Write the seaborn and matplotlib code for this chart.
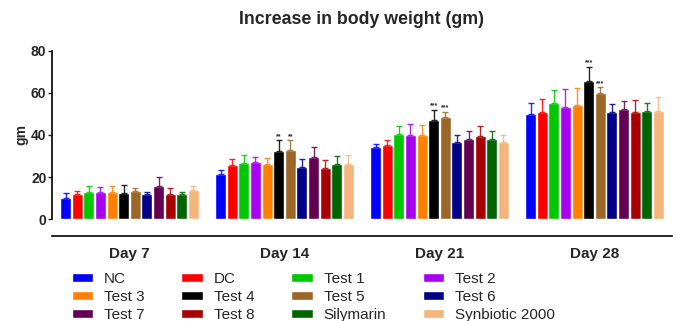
import pandas as pd
import matplotlib.pyplot as plt
import seaborn as sns

# datos
dias = ["Day 7", "Day 14", "Day 21", "Day 28"]
grupos = ["NC", "DC", "Test 1", "Test 2", "Test 3", "Test 4", "Test 5",
          "Test 6", "Test 7", "Test 8", "Silymarin", "Synbiotic 2000"]
colores = ["#0000FF", "#FF0000", "#00C800", "#A800F0", "#FF8000", "#000000",
           "#9C6628", "#000088", "#640050", "#A80000", "#006400", "#F4B67C"]

media_d7 = [10.1, 11.8, 12.9, 12.9, 12.8, 12.5, 13.2, 12.2, 15.6, 12.2, 12.2, 14.0]
media_d14 = [21.3, 25.6, 26.8, 27.0, 26.4, 32.3, 32.7, 24.8, 29.5, 24.5, 26.4, 26.0]
media_d21 = [34.2, 35.3, 40.6, 40.1, 39.8, 47.2, 48.4, 36.9, 38.0, 39.6, 38.2, 36.8]
media_d28 = [50.0, 51.1, 55.1, 53.5, 54.3, 65.5, 59.8, 50.8, 52.4, 51.1, 51.6, 51.3]

error_d7 = [2.4, 1.5, 2.8, 2.4, 2.8, 3.6, 1.5, 0.8, 4.6, 2.6, 0.5, 1.9]
error_d14 = [2.2, 3.1, 3.6, 2.5, 2.8, 5.1, 4.7, 3.7, 4.7, 3.4, 3.4, 4.4]
error_d21 = [1.6, 2.1, 3.8, 5.2, 5.0, 4.7, 2.4, 3.3, 4.1, 4.9, 3.6, 3.3]
error_d28 = [5.4, 5.8, 6.3, 8.5, 7.9, 6.6, 2.8, 4.0, 3.9, 5.5, 3.6, 6.6]

# asteriscos de significancia: (dia, grupo) -> texto
signos = {(1, 5): "**", (1, 6): "**",
          (2, 5): "***", (2, 6): "***",
          (3, 5): "***", (3, 6): "***"}

medias = [media_d7, media_d14, media_d21, media_d28]
errores = [error_d7, error_d14, error_d21, error_d28]

filas = []
for d, dia in enumerate(dias):
    for g, grupo in enumerate(grupos):
        filas.append({"dia": dia, "grupo": grupo, "valor": medias[d][g]})
df = pd.DataFrame(filas)

sns.set_style("white")
plt.rcParams['font.family'] = ['Liberation Sans', 'DejaVu Sans']

fig = plt.figure(figsize=(6.76, 3.21), dpi=100)
ax = fig.add_axes([0.077, 0.317, 0.917, 0.525])

sns.barplot(data=df, x="dia", y="valor", hue="grupo", hue_order=grupos,
            palette=colores, width=0.9, gap=0.05, errorbar=None, ax=ax,
            saturation=1)

# barras de error (solo hacia arriba) y asteriscos
contenedores = list(ax.containers)
for g, cont in enumerate(contenedores):
    for d, barra in enumerate(cont):
        x = barra.get_x() + barra.get_width() / 2
        y = barra.get_height()
        e = errores[d][g]
        ax.errorbar(x, y, yerr=[[0], [e]], fmt="none", ecolor=colores[g],
                    elinewidth=1, capsize=2.2, capthick=1, alpha=0.85)
        if (d, g) in signos:
            ax.text(x, y + e + 0.3, signos[(d, g)], ha="center", va="bottom",
                    fontsize=5, fontweight="bold")

ax.set_ylim(0, 80)
ax.set_xlim(-0.5, 3.5)
ax.set_yticks([0, 20, 40, 60, 80])
ax.set_xticks(range(len(dias)))
ax.set_xticklabels(dias)
ax.set_title("Increase in body weight (gm)", fontsize=12.8, fontweight="bold", pad=19)
ax.set_ylabel("gm", fontsize=10, fontweight="bold", labelpad=2)
ax.set_xlabel("")

ax.tick_params(axis="y", labelsize=10, length=3, width=1, direction="out", pad=1, left=True)
ax.tick_params(axis="x", labelsize=11, length=0, pad=8)

ax.spines["top"].set_visible(False)
ax.spines["right"].set_visible(False)
ax.spines["left"].set_bounds(0, 80)
ax.spines["left"].set_linewidth(1.2)
ax.spines["left"].set_color("black")
ax.spines["bottom"].set_position(("outward", 12))
ax.spines["bottom"].set_linewidth(1.2)
ax.spines["bottom"].set_color("black")

# leyenda en 4 columnas, ordenada por filas
handles, labels = ax.get_legend_handles_labels()
orden = [0, 4, 8, 1, 5, 9, 2, 6, 10, 3, 7, 11]
ax.legend([handles[i] for i in orden], [labels[i] for i in orden],
          ncol=4, loc="upper left", bbox_to_anchor=(0.022, -0.275),
          frameon=False, fontsize=11, handlelength=1.4, handleheight=0.55,
          handletextpad=0.72, labelspacing=0.26, columnspacing=2.4,
          borderaxespad=0)

# etiquetas de los ejes en negrita
fig.canvas.draw()
for lab in ax.get_xticklabels() + ax.get_yticklabels():
    lab.set_fontweight("bold")

fig.savefig("out.png", dpi=100)
